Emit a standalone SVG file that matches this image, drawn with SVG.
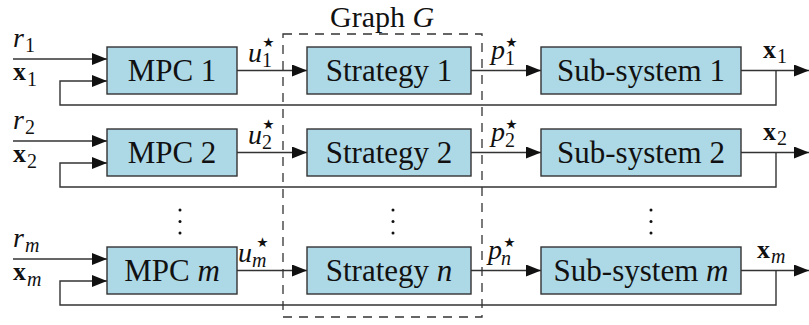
<svg xmlns="http://www.w3.org/2000/svg" width="809" height="325" viewBox="0 0 809 325">
<defs>
<marker id="arr" markerWidth="15" markerHeight="12" refX="15" refY="6" orient="auto" markerUnits="userSpaceOnUse">
<path d="M0,0 L15,6 L0,12 Z" fill="#111"/>
</marker>
<style>
text{font-family:'Liberation Serif','Times New Roman','DejaVu Serif',Times,serif;fill:#111}
.box{fill:#ADD8E6;stroke:#333;stroke-width:1.4}
.ar{fill:none;stroke:#333;stroke-width:1.4;marker-end:url(#arr)}
.dash{fill:none;stroke:#333;stroke-width:1.3;stroke-dasharray:9 7}
.t{font-size:31px}
.g{font-size:30px}
.m{font-size:28px;font-style:italic}
.b{font-size:26px;font-weight:bold}
.s{font-size:20px;font-style:normal;font-weight:normal}
.si{font-size:20px;font-style:italic;font-weight:normal}
.st{font-size:27px;font-style:normal;font-family:'DejaVu Sans',sans-serif}
.dot{fill:#111}
</style>
</defs>

<g id="graph">
<rect class="dash" x="283" y="34" width="199" height="283"/>
<text class="g" x="330" y="27">Graph <tspan font-style="italic">G</tspan></text>
</g>

<g id="connectors">
<line class="ar" x1="13" y1="59" x2="107" y2="59"/>
<polyline class="ar" points="776,70.5 776,105 60,105 60,81 107,81"/>
<line class="ar" x1="237" y1="70.5" x2="307" y2="70.5"/>
<line class="ar" x1="471" y1="70.5" x2="541" y2="70.5"/>
<line class="ar" x1="741" y1="70.5" x2="809" y2="70.5"/>
<line class="ar" x1="13" y1="141" x2="107" y2="141"/>
<polyline class="ar" points="776,152.5 776,187 60,187 60,163 107,163"/>
<line class="ar" x1="237" y1="152.5" x2="307" y2="152.5"/>
<line class="ar" x1="471" y1="152.5" x2="541" y2="152.5"/>
<line class="ar" x1="741" y1="152.5" x2="809" y2="152.5"/>
<line class="ar" x1="13" y1="259" x2="107" y2="259"/>
<polyline class="ar" points="776,270.5 776,305 60,305 60,281 107,281"/>
<line class="ar" x1="237" y1="270.5" x2="307" y2="270.5"/>
<line class="ar" x1="471" y1="270.5" x2="541" y2="270.5"/>
<line class="ar" x1="741" y1="270.5" x2="809" y2="270.5"/>
</g>

<g id="labels">
<!-- row 1 -->
<text class="m" x="13" y="47">r<tspan class="s" x="25" y="52">1</tspan></text>
<text class="b" x="13" y="80">x<tspan class="s" x="27" y="86">1</tspan></text>
<text class="m" x="248" y="62">u<tspan class="st" x="260" y="51">⋆</tspan><tspan class="s" x="262" y="67">1</tspan></text>
<text class="m" x="491" y="59">p<tspan class="st" x="503" y="51">⋆</tspan><tspan class="s" x="505" y="65">1</tspan></text>
<text class="b" x="763" y="58">x<tspan class="s" x="777" y="63">1</tspan></text>
<!-- row 2 -->
<text class="m" x="13" y="129">r<tspan class="s" x="25" y="134">2</tspan></text>
<text class="b" x="13" y="162">x<tspan class="s" x="27" y="168">2</tspan></text>
<text class="m" x="248" y="144">u<tspan class="st" x="260" y="133">⋆</tspan><tspan class="s" x="262" y="149">2</tspan></text>
<text class="m" x="491" y="141">p<tspan class="st" x="503" y="133">⋆</tspan><tspan class="s" x="505" y="147">2</tspan></text>
<text class="b" x="763" y="140">x<tspan class="s" x="777" y="145">2</tspan></text>
<!-- row m -->
<text class="m" x="13" y="247">r<tspan class="si" x="25" y="252">m</tspan></text>
<text class="b" x="13" y="280">x<tspan class="si" x="27" y="286">m</tspan></text>
<text class="m" x="238" y="262">u<tspan class="st" x="254" y="251">⋆</tspan><tspan class="si" x="252" y="267">m</tspan></text>
<text class="m" x="488" y="259">p<tspan class="st" x="501" y="251">⋆</tspan><tspan class="si" x="501" y="265">n</tspan></text>
<text class="b" x="757" y="258">x<tspan class="si" x="771" y="263">m</tspan></text>
</g>

<g id="mpc1"><rect class="box" x="107" y="47" width="130" height="47"/><text class="t" x="172" y="81" text-anchor="middle">MPC 1</text></g>
<g id="strategy1"><rect class="box" x="307" y="47" width="164" height="47"/><text class="t" x="389" y="81" text-anchor="middle">Strategy 1</text></g>
<g id="subsystem1"><rect class="box" x="541" y="47" width="200" height="47"/><text class="t" x="641" y="81" text-anchor="middle">Sub-system 1</text></g>
<g id="mpc2"><rect class="box" x="107" y="129" width="130" height="47"/><text class="t" x="172" y="163" text-anchor="middle">MPC 2</text></g>
<g id="strategy2"><rect class="box" x="307" y="129" width="164" height="47"/><text class="t" x="389" y="163" text-anchor="middle">Strategy 2</text></g>
<g id="subsystem2"><rect class="box" x="541" y="129" width="200" height="47"/><text class="t" x="641" y="163" text-anchor="middle">Sub-system 2</text></g>
<g id="mpcm"><rect class="box" x="107" y="247" width="130" height="47"/><text class="t" x="172" y="281" text-anchor="middle">MPC <tspan font-style="italic">m</tspan></text></g>
<g id="strategyn"><rect class="box" x="307" y="247" width="164" height="47"/><text class="t" x="389" y="281" text-anchor="middle">Strategy <tspan font-style="italic">n</tspan></text></g>
<g id="subsystemm"><rect class="box" x="541" y="247" width="200" height="47"/><text class="t" x="641" y="281" text-anchor="middle">Sub-system <tspan font-style="italic">m</tspan></text></g>

<g id="ellipses">
<circle class="dot" cx="180" cy="210" r="1.5"/><circle class="dot" cx="180" cy="221.5" r="1.5"/><circle class="dot" cx="180" cy="233" r="1.5"/>
<circle class="dot" cx="393" cy="210" r="1.5"/><circle class="dot" cx="393" cy="221.5" r="1.5"/><circle class="dot" cx="393" cy="233" r="1.5"/>
<circle class="dot" cx="651" cy="210" r="1.5"/><circle class="dot" cx="651" cy="221.5" r="1.5"/><circle class="dot" cx="651" cy="233" r="1.5"/>
</g>
</svg>
